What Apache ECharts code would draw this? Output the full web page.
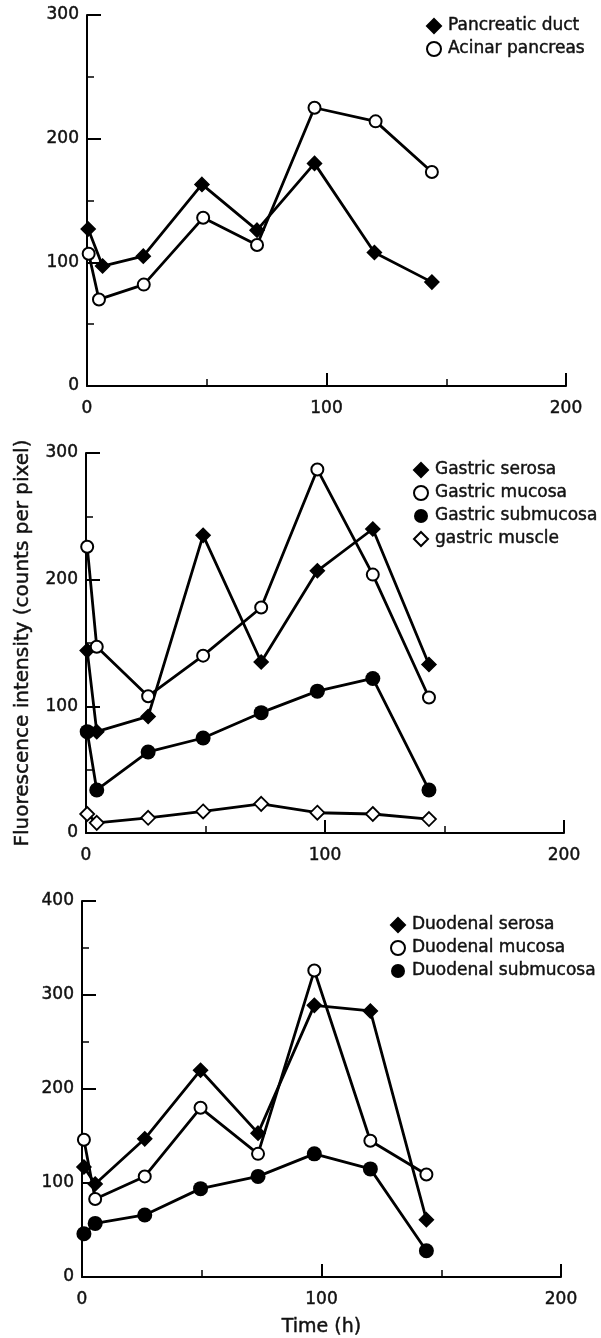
<!DOCTYPE html>
<html>
<head>
<meta charset="utf-8">
<script src="https://cdn.jsdelivr.net/npm/echarts@6/dist/echarts.min.js"></script>
<style>
html,body{margin:0;padding:0;background:#fff;}
#chart{width:601px;height:1338px;}
</style>
</head>
<body>
<div id="chart"></div>
<script>
// ---- data ----
const timesPancDuct = [0.5, 6.5, 23.5, 48, 71, 95, 120, 144];
const timesAcinar   = [0.7, 5, 23.7, 48.5, 71, 95, 120.5, 144];
const pancreaticDuct = [127, 97, 105, 163, 126, 180, 108, 84];
const acinarPancreas = [107, 70, 82, 136, 114, 225, 214, 173];

const timesGastric = [0.5, 4.5, 26, 49, 73.3, 96.8, 120, 143.5];
const gastricSerosa    = [144, 80, 92, 235, 135, 207, 240, 133];
const gastricMucosa    = [226, 147, 108, 140, 178, 287, 204, 107];
const gastricSubmucosa = [80, 34, 64, 75, 95, 112, 122, 34];
const gastricMuscle    = [15, 8, 12, 17, 23, 16, 15, 11];

const timesDuodenal = [0.8, 5.5, 26.2, 49.5, 73.5, 97, 120.4, 143.8];
const duodenalSerosa    = [117, 99, 147, 220, 153, 289, 283, 61];
const duodenalMucosa    = [146, 83, 107, 180, 131, 326, 145, 109];
const duodenalSubmucosa = [46, 57, 66, 94, 107, 131, 115, 28];

const xTickLabels = ['0', '100', '200'];
const yTitle = 'Fluorescence intensity (counts per pixel)';
const xTitle = 'Time (h)';

// ---- styles ----
const FONT = 'DejaVu Sans';
const INK = '#111';
const heavy = { textBorderColor: INK, textBorderWidth: 0.45 };
const pairs = (t, v) => t.map((x, i) => [x, v[i]]);

const styles = {
  filledDiamond: { symbol: 'diamond', symbolSize: 14, itemStyle: { color: '#000', borderColor: '#000', borderWidth: 1.5 } },
  openCircle:    { symbol: 'circle', symbolSize: 12, itemStyle: { color: '#fff', borderColor: '#000', borderWidth: 2 } },
  filledCircle:  { symbol: 'circle', symbolSize: 15, itemStyle: { color: '#000', borderWidth: 0 } },
  openDiamond:   { symbol: 'diamond', symbolSize: 14, itemStyle: { color: '#fff', borderColor: '#000', borderWidth: 1.8 } }
};

function mkSeries(name, t, v, idx, st) {
  return Object.assign({
    name: name,
    type: 'line',
    xAxisIndex: idx,
    yAxisIndex: idx,
    data: pairs(t, v),
    showSymbol: true,
    showAllSymbol: true,
    lineStyle: { color: '#000', width: 2.8 },
    emphasis: { disabled: true },
    z: 2
  }, st);
}

function xAxis(idx, extra) {
  return Object.assign({
    type: 'value', gridIndex: idx, min: 0, max: 200, interval: 100,
    axisLine: { onZero: false, lineStyle: { color: '#000', width: 2 } },
    axisTick: { inside: true, length: 13, lineStyle: { color: '#000', width: 2 } },
    minorTick: { show: true, splitNumber: 2, length: 7, lineStyle: { color: '#000', width: 1.5 } },
    splitLine: { show: false },
    axisLabel: Object.assign({ margin: 14, fontSize: 17, color: INK, fontFamily: FONT,
      formatter: v => xTickLabels[Math.round(v / 100)] }, heavy)
  }, extra || {});
}
function yAxis(idx, max, extra) {
  return Object.assign({
    type: 'value', gridIndex: idx, min: 0, max: max, interval: 100,
    axisLine: { onZero: false, lineStyle: { color: '#000', width: 2 } },
    axisTick: { inside: true, length: 14, lineStyle: { color: '#000', width: 2 } },
    minorTick: { show: true, splitNumber: 2, length: 7, lineStyle: { color: '#000', width: 1.5 } },
    splitLine: { show: false },
    axisLabel: Object.assign({ margin: 8, fontSize: 17, color: INK, fontFamily: FONT }, heavy)
  }, extra || {});
}
function legend(left, top, names, icons) {
  return {
    left: left, top: top, orient: 'vertical',
    itemWidth: 14, itemHeight: 14, itemGap: 5,
    selectedMode: false,
    textStyle: Object.assign({ fontFamily: FONT, fontSize: 17, color: INK, lineHeight: 18, padding: [0, 0, 0, 2] }, heavy),
    data: names.map((n, i) => ({ name: n, icon: icons[i] }))
  };
}

const option = {
  animation: false,
  backgroundColor: '#fff',
  grid: [
    { left: 87, right: 35, top: 15, height: 371, outerBoundsMode: 'none', containLabel: false },
    { left: 86, right: 37, top: 453, height: 380, outerBoundsMode: 'none', containLabel: false },
    { left: 82, right: 40, top: 901, height: 376, outerBoundsMode: 'none', containLabel: false }
  ],
  xAxis: [
    xAxis(0), xAxis(1),
    xAxis(2, { name: xTitle, nameLocation: 'middle', nameGap: 41, nameMoveOverlap: false,
      nameTextStyle: Object.assign({ fontFamily: FONT, fontSize: 19, color: INK }, heavy) })
  ],
  yAxis: [
    yAxis(0, 300),
    yAxis(1, 300, { name: yTitle, nameLocation: 'middle', nameRotate: 90, nameGap: 53, nameMoveOverlap: false,
      nameTextStyle: Object.assign({ fontFamily: FONT, fontSize: 20, color: INK }, heavy) }),
    yAxis(2, 400)
  ],
  legend: [
    legend(421, 12, ['Pancreatic duct', 'Acinar pancreas'], ['diamond', 'circle']),
    legend(408, 456, ['Gastric serosa', 'Gastric mucosa', 'Gastric submucosa', 'gastric muscle'], ['diamond', 'circle', 'circle', 'diamond']),
    legend(385, 911, ['Duodenal serosa', 'Duodenal mucosa', 'Duodenal submucosa'], ['diamond', 'circle', 'circle'])
  ],
  series: [
    mkSeries('Pancreatic duct', timesPancDuct, pancreaticDuct, 0, styles.filledDiamond),
    mkSeries('Acinar pancreas', timesAcinar, acinarPancreas, 0, styles.openCircle),

    mkSeries('gastric muscle', timesGastric, gastricMuscle, 1, styles.openDiamond),
    mkSeries('Gastric submucosa', timesGastric, gastricSubmucosa, 1, styles.filledCircle),
    mkSeries('Gastric serosa', timesGastric, gastricSerosa, 1, styles.filledDiamond),
    mkSeries('Gastric mucosa', timesGastric, gastricMucosa, 1, styles.openCircle),

    mkSeries('Duodenal submucosa', timesDuodenal, duodenalSubmucosa, 2, styles.filledCircle),
    mkSeries('Duodenal serosa', timesDuodenal, duodenalSerosa, 2, styles.filledDiamond),
    mkSeries('Duodenal mucosa', timesDuodenal, duodenalMucosa, 2, styles.openCircle)
  ]
};

const chart = echarts.init(document.getElementById('chart'), null, { renderer: 'canvas', width: 601, height: 1338 });
chart.setOption(option);
</script>
</body>
</html>
